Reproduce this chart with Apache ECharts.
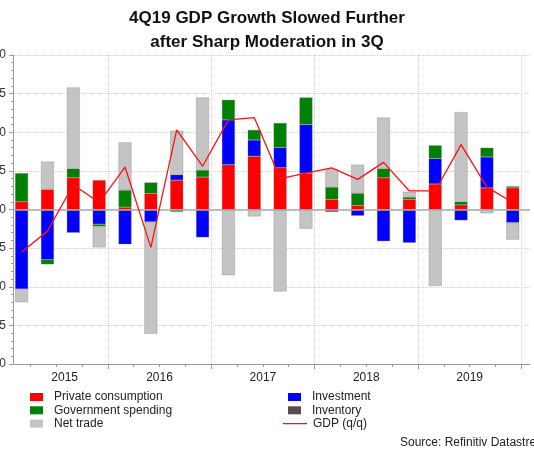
<!DOCTYPE html>
<html>
<head>
<meta charset="utf-8">
<title>4Q19 GDP Growth</title>
<script src="https://cdn.jsdelivr.net/npm/echarts/dist/echarts.min.js"></script>
<style>
  html, body { margin: 0; padding: 0; background: #fff; }
  #chart { width: 534px; height: 449px; }
</style>
</head>
<body>
<div id="chart"></div>
<script>
// bars are dated on the last month of each quarter
const quarters = [
  '2015-03', '2015-06', '2015-09', '2015-12',
  '2016-03', '2016-06', '2016-09', '2016-12',
  '2017-03', '2017-06', '2017-09', '2017-12',
  '2018-03', '2018-06', '2018-09', '2018-12',
  '2019-03', '2019-06', '2019-09', '2019-12'
];
const privateConsumption = [0.10, 0.26, 0.41, 0.38, 0.03, 0.21, 0.38, 0.42, 0.58, 0.69,
  0.54, 0.47, 0.13, 0.05, 0.41, 0.13, 0.33, 0.06, 0.28, 0.28];
const investment = [-1.03, -0.65, -0.30, -0.19, -0.45, -0.16, 0.07, -0.36, 0.58, 0.21,
  0.26, 0.63, -0.03, -0.08, -0.41, -0.43, 0.33, -0.14, 0.40, -0.17];
const government = [0.37, -0.06, 0.12, -0.03, 0.22, 0.14, -0.03, 0.09, 0.26, 0.13,
  0.32, 0.35, 0.16, 0.16, 0.12, 0.03, 0.17, 0.04, 0.12, 0.02];
const inventory = []; // nothing visible in the picture
const netTrade = [-0.17, 0.36, 1.05, -0.27, 0.62, -1.45, 0.57, 0.94, -0.85, -0.09,
  -1.06, -0.25, 0.23, 0.37, 0.66, 0.07, -0.99, 1.16, -0.05, -0.22];
const gdp = [-0.55, -0.28, 0.32, 0.09, 0.55, -0.49, 1.03, 0.56, 1.16, 1.19,
  0.40, 0.47, 0.54, 0.39, 0.61, 0.24, 0.24, 0.84, 0.29, 0.09];

const yearLabels = ['2015', '2016', '2017', '2018', '2019'];
const yearLabelMonths = ['2015-08', '2016-07', '2017-07', '2018-07', '2019-07'];

// monthly axis, Feb 2015 .. Feb 2020
const months = [];
for (let y = 2015, m = 2; y < 2020 || m <= 2; m++) {
  if (m > 12) { m = 1; y++; }
  months.push(y + '-' + String(m).padStart(2, '0'));
}

const FONT = 'Liberation Sans, Arial, sans-serif';
const GRID_GREY = '#cfcfcf';
const AXIS_GREY = '#9a9a9a';

const pairs = arr => arr.map((v, i) => [quarters[i], v]);
const isQuarterStart = (i, v) => ['01', '04', '07', '10'].includes(v.slice(5));
const isYearStart = (i, v) => v.slice(5) === '01';

const bar = (name, arr, color) => ({
  name,
  type: 'bar',
  stack: 'contrib',
  barWidth: 13,
  data: pairs(arr),
  itemStyle: { color, borderColor: 'rgba(110,110,110,0.55)', borderWidth: 0.5 }
});

const legendText = { fontSize: 12, color: '#222', fontFamily: FONT, padding: [0, 0, 0, 6] };
const legendBase = {
  orient: 'vertical',
  icon: 'rect',
  itemWidth: 13,
  itemHeight: 8,
  itemGap: 1.3,
  selectedMode: false,
  itemStyle: { borderWidth: 0 },
  textStyle: legendText
};

const chart = echarts.init(document.getElementById('chart'), null, { renderer: 'canvas' });

const option = {
  animation: false,
  backgroundColor: '#fff',
  textStyle: { fontFamily: FONT },
  title: [
    {
      text: '4Q19 GDP Growth Slowed Further\nafter Sharp Moderation in 3Q',
      left: 'center',
      top: 1,
      textStyle: { fontSize: 17, fontWeight: 'bold', lineHeight: 24, color: '#111', fontFamily: FONT }
    },
    {
      text: 'Source: Refinitiv Datastream',
      left: 395,
      top: 432,
      textStyle: { fontSize: 12, fontWeight: 'normal', color: '#222', fontFamily: FONT }
    }
  ],
  legend: [
    Object.assign({}, legendBase, {
      left: 25, top: 386,
      data: ['Private consumption', 'Government spending', 'Net trade']
    }),
    Object.assign({}, legendBase, {
      left: 283, top: 386,
      data: ['Investment', 'Inventory']
    }),
    // thin rect stands in for the line key
    Object.assign({}, legendBase, {
      left: 278, top: 412.6, itemWidth: 24, itemHeight: 1.3,
      textStyle: Object.assign({}, legendText, { padding: [0, 0, 0, 1] }),
      data: ['GDP (q/q)']
    })
  ],
  grid: { left: 13, right: 4, top: 55, bottom: 85, outerBoundsMode: 'none', containLabel: false },
  xAxis: [
    {
      type: 'category',
      data: months,
      boundaryGap: false,
      position: 'bottom',
      axisLine: { onZero: false, lineStyle: { color: AXIS_GREY } },
      axisTick: { interval: isQuarterStart, length: 3, lineStyle: { color: AXIS_GREY } },
      axisLabel: {
        interval: 0,
        margin: 8,
        fontSize: 12,
        color: '#222',
        formatter: v => {
          const k = yearLabelMonths.indexOf(v);
          return k >= 0 ? yearLabels[k] : '';
        }
      },
      splitLine: { show: false }
    },
    {
      type: 'category',
      data: months,
      boundaryGap: false,
      position: 'bottom',
      axisLine: { show: false, onZero: false },
      axisTick: { interval: isYearStart, length: 5, lineStyle: { color: AXIS_GREY } },
      axisLabel: { show: false },
      splitLine: { show: true, interval: isYearStart, lineStyle: { type: 'dotted', color: GRID_GREY } }
    }
  ],
  yAxis: {
    type: 'value',
    min: -2,
    max: 2,
    interval: 0.5,
    axisLine: { show: true, lineStyle: { color: AXIS_GREY } },
    axisTick: { show: true, length: 4, lineStyle: { color: AXIS_GREY } },
    minorTick: { show: true, splitNumber: 5, length: 2, lineStyle: { color: AXIS_GREY } },
    axisLabel: { margin: 7, fontSize: 12, color: '#333', formatter: v => v.toFixed(1) },
    splitLine: { lineStyle: { type: 'dotted', color: GRID_GREY } }
  },
  series: [
    Object.assign(bar('Private consumption', privateConsumption, '#ff0000'), {
      markLine: {
        silent: true,
        symbol: ['none', 'none'],
        label: { show: false },
        lineStyle: { color: '#ababab', width: 1.5, type: 'solid' },
        data: [{ yAxis: 0 }]
      }
    }),
    bar('Investment', investment, '#0000ff'),
    bar('Government spending', government, '#008000'),
    bar('Inventory', inventory, '#5e4a4a'),
    bar('Net trade', netTrade, '#c4c4c4'),
    {
      name: 'GDP (q/q)',
      type: 'line',
      data: pairs(gdp),
      symbol: 'none',
      z: 5,
      lineStyle: { color: '#ff1010', width: 1.3 },
      itemStyle: { color: '#ff1010' }
    }
  ]
};

chart.setOption(option);
</script>
</body>
</html>
